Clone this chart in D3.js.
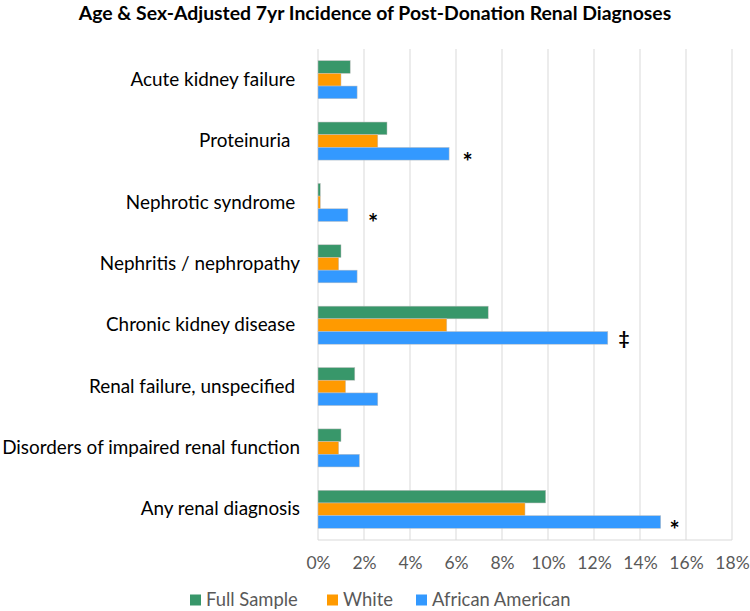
<!DOCTYPE html>
<html><head><meta charset="utf-8">
<script src="https://cdn.jsdelivr.net/npm/d3@7"></script>
<style>body{margin:0;background:#fff}svg{display:block}.ylab text{white-space:pre}</style>
</head><body>
<svg id="c" width="750" height="611"></svg>
<script>
const categories = ["Acute kidney failure ","Proteinuria  ","Nephrotic syndrome ","Nephritis / nephropathy","Chronic kidney disease ","Renal failure, unspecified ","Disorders of impaired renal function","Any renal diagnosis"];
const seriesNames = ["Full Sample","White","African American"];
const fullSample = [1.4,3.0,0.1,1.0,7.4,1.6,1.0,9.9];
const white = [1.0,2.6,0.1,0.9,5.6,1.2,0.9,9.0];
const africanAmerican = [1.7,5.7,1.3,1.7,12.6,2.6,1.8,14.9];
const annotationMarks = ["","*","*","","‡","","","*"];
const annotationAt = [null,6.5,2.4,null,13.3,null,null,15.5];
const xTicks = [0,2,4,6,8,10,12,14,16,18];
const title = "Age & Sex-Adjusted 7yr Incidence of Post-Donation Renal Diagnoses";
const colors = ["#38976A","#FF9A00","#3399FF"];

const svg = d3.select("#c");
const font = "Lato, 'Open Sans', sans-serif";
const x = d3.scaleLinear().domain([0,18]).range([318,732]);
const y = d3.scaleBand().domain(categories).range([49,540]).paddingInner(0.38).paddingOuter(0.19);
const ys = d3.scaleBand().domain(seriesNames).range([0,y.bandwidth()]);
const series = [fullSample, white, africanAmerican];

// grid
svg.append("g").selectAll("line").data(xTicks).join("line")
  .attr("x1",d=>x(d)).attr("x2",d=>x(d)).attr("y1",49).attr("y2",540)
  .attr("stroke","#d9d9d9").attr("stroke-width",1);
svg.append("line").attr("x1",x(0)).attr("x2",x(18)).attr("y1",540).attr("y2",540)
  .attr("stroke","#d9d9d9").attr("stroke-width",1);

// bars
series.forEach((vals,si)=>{
  svg.append("g").selectAll("rect").data(vals).join("rect")
    .attr("x",x(0)).attr("y",(d,i)=>y(categories[i])+ys(seriesNames[si]))
    .attr("width",d=>x(d)-x(0)).attr("height",ys.bandwidth())
    .attr("fill",colors[si]).attr("stroke","#bfbfbf").attr("stroke-width",0.5);
});

// annotations
svg.append("g").selectAll("text").data(annotationMarks.map((m,i)=>({m,i})).filter(d=>d.m))
  .join("text")
  .attr("x",d=>x(annotationAt[d.i])).attr("y",d=>y(categories[d.i])+ys("African American")+ys.bandwidth()/2)
  .attr("dy",d=>d.m==="*"?"0.72em":"0.38em").attr("text-anchor","middle")
  .attr("font-family",font).attr("font-weight","bold").attr("font-size",d=>d.m==="*"?24:19).attr("fill","#000")
  .text(d=>d.m);

// x axis labels
const xa = svg.append("g").attr("transform","translate(0,540)")
  .call(d3.axisBottom(x).tickValues(xTicks).tickFormat(d=>d+"%").tickSize(0).tickPadding(16.5));
xa.select(".domain").remove();
xa.selectAll("text").attr("font-family",font).attr("font-size",17.5).attr("fill","#595959");

// y axis labels
const ya = svg.append("g").attr("class","ylab").attr("transform","translate(300,0)")
  .call(d3.axisLeft(y).tickSize(0).tickPadding(0));
ya.select(".domain").remove();
ya.selectAll("text").attr("font-family",font).attr("font-size",18.9).attr("fill","#000");

// title
svg.append("text").attr("x",375).attr("y",20).attr("text-anchor","middle")
  .attr("font-family",font).attr("font-weight","bold").attr("font-size",19.4).attr("fill","#000")
  .text(title);

// legend
const lx = [190,327,416];
const lg = svg.append("g").selectAll("g").data(seriesNames).join("g")
  .attr("transform",(d,i)=>`translate(${lx[i]},600)`);
lg.append("rect").attr("x",0).attr("y",-5.5).attr("width",11).attr("height",11).attr("fill",(d,i)=>colors[i]);
lg.append("text").attr("x",16).attr("dy","0.35em").attr("font-family",font).attr("font-size",18.4).attr("fill","#595959").text(d=>d);
</script>
</body></html>
